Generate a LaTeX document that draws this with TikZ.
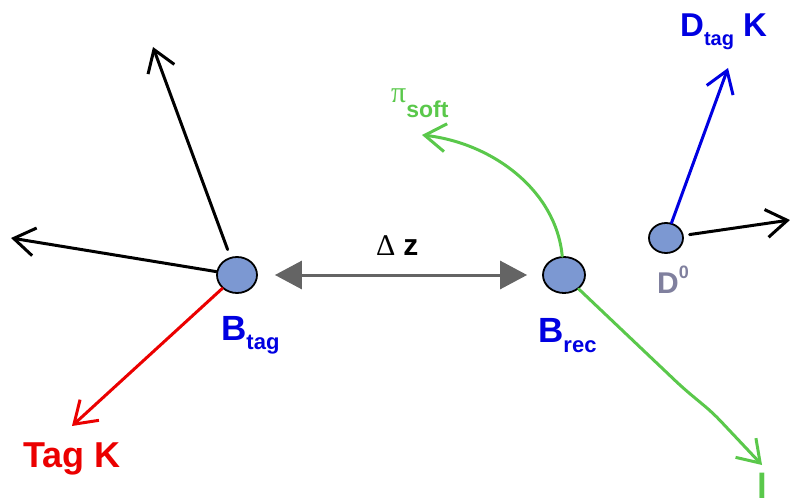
\documentclass[tikz,border=0pt]{standalone}
\usepackage{fontspec}
\setmainfont{Liberation Sans}
\newfontfamily\serifgr{Liberation Serif}
\usetikzlibrary{arrows.meta,shapes.geometric}
\definecolor{vtx}{RGB}{124,152,210}
\definecolor{lblue}{RGB}{0,0,225}
\definecolor{lred}{RGB}{235,0,0}
\definecolor{lgreen}{RGB}{90,200,75}
\definecolor{lgray}{RGB}{128,128,158}
\definecolor{dgray}{RGB}{100,100,100}
\begin{document}
\begin{tikzpicture}[x=1pt,y=-1pt,
  vertex/.style={ellipse,draw=black,line width=1.8pt,fill=vtx,minimum width=40pt,minimum height=36pt,inner sep=0pt},
  track/.style={line width=3pt,line cap=round,-{Straight Barb[length=21pt,width=28pt]}},
  lbl/.style={inner sep=0pt,anchor=base west,font=\bfseries}]
\useasboundingbox (0,0) rectangle (790,500);
\clip (0,0) rectangle (790,500);
% vertices
\node[vertex] (btag) at (237,275) {};
\node[vertex,minimum width=42pt] (brec) at (564,275) {};
\node[vertex,minimum width=34pt,minimum height=30pt] (dz) at (666,238) {};
% free ends
\coordinate (t1) at (153,47);
\coordinate (t2) at (11,238);
\coordinate (tk) at (72,426);
\coordinate (pi) at (422,135);
\coordinate (lt) at (762,465);
\coordinate (dk) at (728,68);
\coordinate (dr) at (790,220);
% tracks
\draw[track,black,shorten <=8pt] (btag) -- (t1);
\draw[track,black] (btag) -- (t2);
\draw[track,lred] (btag) -- (tk);
\draw[track,lgreen] (brec) .. controls (556,190) and (492,143) .. (pi);
\draw[track,lgreen,rounded corners=10pt] (brec) -- (683,388) -- (713,413) -- (lt);
\draw[track,lblue] (dz) -- (dk);
\draw[track,black,shorten <=6pt] (dz) -- (dr);
% delta z
\draw[dgray,line width=3pt,{Triangle[length=27pt,width=28pt]}-{Triangle[length=27pt,width=28pt]},shorten <=17pt,shorten >=15pt] (btag) -- (brec);
% labels
\node[lbl,lblue] (lbtag) at (221,340) {\fontsize{35}{40}\selectfont B\raisebox{-9pt}{\fontsize{22}{22}\selectfont tag}};
\node[lbl,lblue] (lbrec) at (538,342) {\fontsize{35}{40}\selectfont B\raisebox{-10pt}{\fontsize{22}{22}\selectfont rec}};
\node[lbl,lgray] (ldz) at (657,293) {\fontsize{30}{36}\selectfont D\raisebox{15pt}{\fontsize{18}{18}\selectfont 0}};
\node[lbl,lblue] (ldk) at (680,37) {\fontsize{33}{38}\selectfont D\raisebox{-9pt}{\fontsize{20}{20}\selectfont tag} K};
\node[lbl,lred] (ltk) at (23,467) {\fontsize{36}{40}\selectfont Tag K};
\node[lbl,lgreen] (lpi) at (391,103) {\fontsize{30}{36}\selectfont{\serifgr\mdseries π}\raisebox{-15pt}{\fontsize{23}{23}\selectfont soft}};
\node[lbl,black] (ldelta) at (376,255) {\fontsize{30}{36}\selectfont{\serifgr\mdseries Δ}\hspace{8pt}z};
\node[lbl,lgreen] (ll) at (757,498) {\fontsize{35}{40}\selectfont l};
\end{tikzpicture}
\end{document}
